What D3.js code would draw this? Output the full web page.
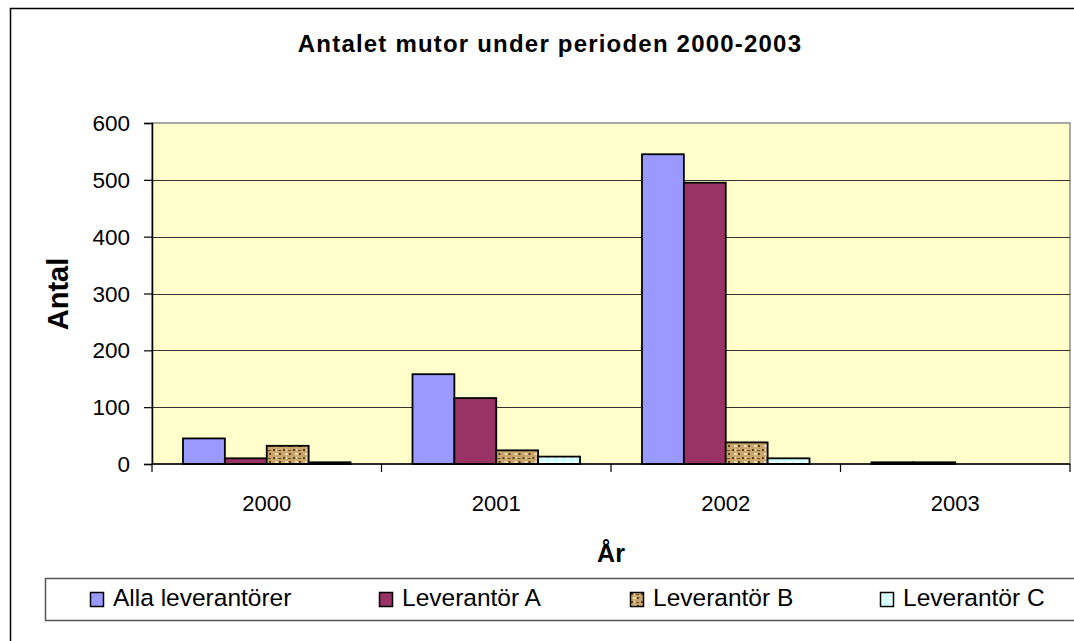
<!DOCTYPE html>
<html>
<head>
<meta charset="utf-8">
<script src="https://cdn.jsdelivr.net/npm/d3@7/dist/d3.min.js"></script>
<style>
	body { margin: 0; background: #fff; }
	svg { display: block; }
	text { font-family: 'Liberation Sans', Arial, sans-serif; fill: #000; }
</style>
</head>
<body>
<div id="chart"></div>
<script>
// data
var categories = ['2000', '2001', '2002', '2003'];
var seriesNames = ['Alla leverantörer', 'Leverantör A', 'Leverantör B', 'Leverantör C'];
var allaLeverantorer = [45, 158, 545, 3];
var leverantorA = [10, 116, 495, 3];
var leverantorB = [32, 24, 38, 0];
var leverantorC = [3, 13, 10, 0];
var yTicks = [0, 100, 200, 300, 400, 500, 600];
var chartTitle = 'Antalet mutor under perioden 2000-2003';
var yTitle = 'Antal';
var xTitle = 'År';

(function() {
	'use strict';

	var WIDTH = 1074;
	var HEIGHT = 641;
	var PLOT = { left: 152, top: 123, right: 1070, bottom: 464 };
	var FILLS = ['#9999FF', '#993366', 'url(#patB)', 'url(#patC)'];

	var seriesValues = [allaLeverantorer, leverantorA, leverantorB, leverantorC];

	var svg = d3.select('#chart')
		.append('svg')
		.attr('width', WIDTH)
		.attr('height', HEIGHT);

	// patterns for the two textured series
	var defs = svg.append('defs');

	var patB = defs.append('pattern')
		.attr('id', 'patB')
		.attr('patternUnits', 'userSpaceOnUse')
		.attr('width', 10)
		.attr('height', 8);
	patB.append('rect').attr('width', 10).attr('height', 8).attr('fill', '#C8A66E');
	patB.append('rect').attr('x', 1).attr('y', 1).attr('width', 2).attr('height', 2).attr('fill', '#5E3F14');
	patB.append('rect').attr('x', 6).attr('y', 2).attr('width', 3).attr('height', 1).attr('fill', '#6E4C1C');
	patB.append('rect').attr('x', 3).attr('y', 5).attr('width', 3).attr('height', 2).attr('fill', '#EEDDB0');
	patB.append('rect').attr('x', 7).attr('y', 5).attr('width', 2).attr('height', 2).attr('fill', '#5E3F14');
	patB.append('rect').attr('x', 4).attr('y', 1).attr('width', 1).attr('height', 2).attr('fill', '#F2E4BE');

	var patC = defs.append('pattern')
		.attr('id', 'patC')
		.attr('patternUnits', 'userSpaceOnUse')
		.attr('width', 8)
		.attr('height', 4);
	patC.append('rect').attr('width', 8).attr('height', 4).attr('fill', '#CCFFFF');
	patC.append('rect').attr('x', 0).attr('y', 1).attr('width', 4).attr('height', 2).attr('fill', '#FFFFFF');

	// chart frame (runs off the right and bottom edge)
	svg.append('rect')
		.attr('x', 10.5)
		.attr('y', 8.5)
		.attr('width', 1200)
		.attr('height', 800)
		.attr('fill', 'none')
		.attr('stroke', '#000')
		.attr('stroke-width', 1.5);

	var x0 = d3.scaleBand()
		.domain(categories)
		.range([PLOT.left, PLOT.right])
		.padding(0);

	var x1 = d3.scaleBand()
		.domain(seriesNames)
		.range([0, x0.bandwidth()])
		.paddingInner(0)
		.paddingOuter(0.74);

	var y = d3.scaleLinear()
		.domain([0, 600])
		.range([PLOT.bottom, PLOT.top]);

	// plot area
	svg.append('rect')
		.attr('x', PLOT.left)
		.attr('y', PLOT.top)
		.attr('width', PLOT.right - PLOT.left)
		.attr('height', PLOT.bottom - PLOT.top)
		.attr('fill', '#FFFFCC')
		.attr('stroke', '#8C8C8C')
		.attr('stroke-width', 1.5);

	// gridlines
	svg.append('g')
		.selectAll('line')
		.data(yTicks.filter(function(t) { return t > 0 && t < 600; }))
		.enter().append('line')
		.attr('x1', PLOT.left)
		.attr('x2', PLOT.right)
		.attr('y1', function(d) { return Math.round(y(d)) + 0.5; })
		.attr('y2', function(d) { return Math.round(y(d)) + 0.5; })
		.attr('stroke', '#333')
		.attr('stroke-width', 1.2);

	// bars
	var groups = svg.append('g')
		.selectAll('g')
		.data(categories)
		.enter().append('g')
		.attr('transform', function(d) { return 'translate(' + x0(d) + ',0)'; });

	groups.selectAll('rect')
		.data(function(d, i) {
			return seriesNames.map(function(name, s) {
				return { name: name, value: seriesValues[s][i], fill: FILLS[s] };
			});
		})
		.enter().append('rect')
		.attr('x', function(d) { return x1(d.name); })
		.attr('y', function(d) { return y(d.value); })
		.attr('width', x1.bandwidth())
		.attr('height', function(d) { return y(0) - y(d.value); })
		.attr('fill', function(d) { return d.fill; })
		.attr('stroke', '#000')
		.attr('stroke-width', function(d) { return d.value > 0 ? 1.8 : 0; });

	// y axis
	var yAxis = svg.append('g')
		.attr('transform', 'translate(' + PLOT.left + ',0)')
		.call(d3.axisLeft(y).tickValues(yTicks).tickSize(8).tickPadding(14));
	yAxis.select('.domain').attr('stroke', '#000').attr('stroke-width', 1.5);
	yAxis.selectAll('.tick line').attr('stroke', '#000').attr('stroke-width', 1.2);
	yAxis.selectAll('.tick text')
		.attr('font-size', '22.5px')
		.attr('font-family', "'Liberation Sans', Arial, sans-serif")
		.attr('fill', '#000')
		.attr('dy', '0.34em');

	// x axis, ticks at the band edges
	var xAxis = svg.append('g')
		.attr('transform', 'translate(0,' + PLOT.bottom + ')');
	xAxis.append('line')
		.attr('x1', PLOT.left)
		.attr('x2', PLOT.right)
		.attr('stroke', '#000')
		.attr('stroke-width', 1.5);
	xAxis.selectAll('line.tick')
		.data(categories.concat(['end']))
		.enter().append('line')
		.attr('class', 'tick')
		.attr('x1', function(d) { return d === 'end' ? PLOT.right : x0(d); })
		.attr('x2', function(d) { return d === 'end' ? PLOT.right : x0(d); })
		.attr('y1', 0)
		.attr('y2', 8)
		.attr('stroke', '#000')
		.attr('stroke-width', 1.2);
	xAxis.selectAll('text')
		.data(categories)
		.enter().append('text')
		.attr('x', function(d) { return x0(d) + x0.bandwidth() / 2; })
		.attr('y', 47)
		.attr('text-anchor', 'middle')
		.attr('font-size', '22px')
		.text(function(d) { return d; });

	// titles
	svg.append('text')
		.attr('x', 550)
		.attr('y', 52)
		.attr('text-anchor', 'middle')
		.attr('font-size', '24px')
		.attr('font-weight', 'bold')
		.attr('letter-spacing', '1.2px')
		.text(chartTitle);

	svg.append('text')
		.attr('transform', 'translate(68,294) rotate(-90)')
		.attr('text-anchor', 'middle')
		.attr('font-size', '29px')
		.attr('font-weight', 'bold')
		.text(yTitle);

	svg.append('text')
		.attr('x', (PLOT.left + PLOT.right) / 2)
		.attr('y', 562)
		.attr('text-anchor', 'middle')
		.attr('font-size', '25px')
		.attr('font-weight', 'bold')
		.text(xTitle);

	// legend
	var legendX = [90, 379, 630, 880];
	var legend = svg.append('g');
	legend.append('rect')
		.attr('x', 45.5)
		.attr('y', 578.5)
		.attr('width', 1200)
		.attr('height', 42)
		.attr('fill', '#fff')
		.attr('stroke', '#555')
		.attr('stroke-width', 1.5);

	var items = legend.selectAll('g.item')
		.data(seriesNames)
		.enter().append('g')
		.attr('class', 'item')
		.attr('transform', function(d, i) { return 'translate(' + legendX[i] + ',0)'; });
	items.append('rect')
		.attr('x', 0.5)
		.attr('y', 592.5)
		.attr('width', 13)
		.attr('height', 14)
		.attr('fill', function(d, i) { return FILLS[i]; })
		.attr('stroke', '#000')
		.attr('stroke-width', 1.5);
	items.append('text')
		.attr('x', 23)
		.attr('y', 606)
		.attr('font-size', '24.5px')
		.text(function(d) { return d; });
}());
</script>
</body>
</html>
